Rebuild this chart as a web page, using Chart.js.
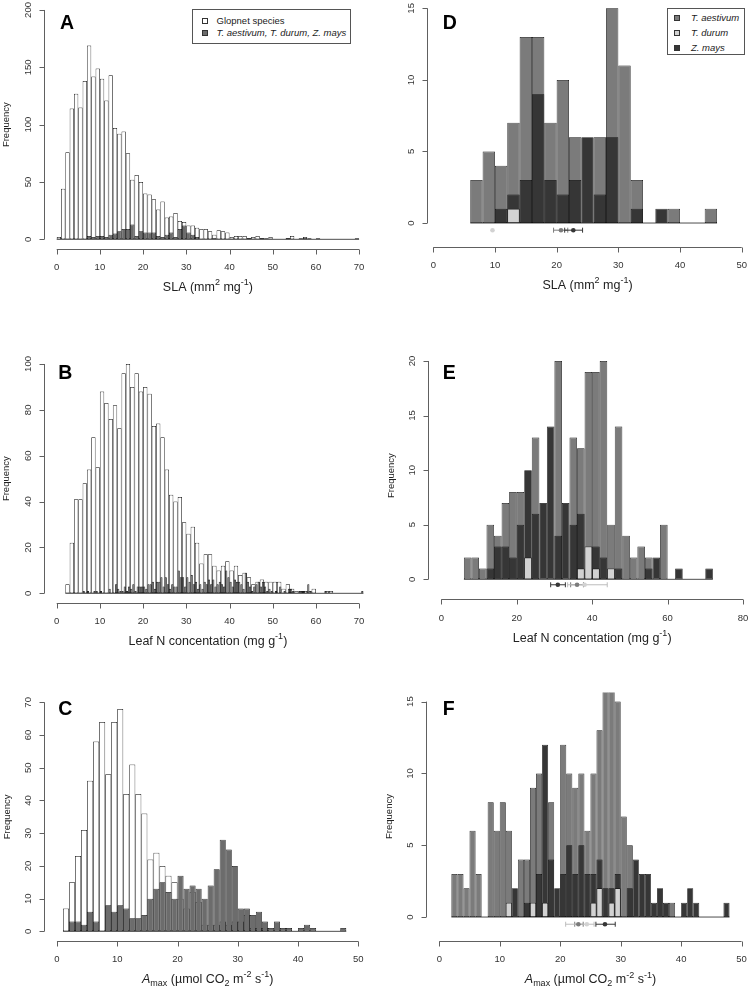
<!DOCTYPE html>
<html lang="en">
<head>
  <meta charset="UTF-8">
  <title>Trait histograms</title>
  <style>
    html, body { margin: 0; padding: 0; background: #fff; overflow: hidden; }
    body { position: relative; width: 752px; height: 990px; font-family: "Liberation Sans", Arial, sans-serif; color: #222; }
    .panel { position: absolute; }
    .lgbox { position: absolute; border: 1px solid #555; background: #fff; box-sizing: border-box; }
    .sw { position: absolute; width: 6px; height: 6px; box-sizing: border-box; border: 1px solid #333; }
    .lt { position: absolute; font-size: 9.5px; line-height: 12px; height: 12px; white-space: nowrap; color: #222; }
    .lt.it { font-style: italic; }
  </style>
</head>
<body>
  <script src="https://cdn.jsdelivr.net/npm/chart.js"></script>
  <script>
    // ---------- data ----------
    const cropNames = ['T. aestivum', 'T. durum', 'Z. mays'];
    const glopLegend = ['Glopnet species', 'T. aestivum, T. durum, Z. mays'];

    // A: SLA, 1-unit bins starting at 0
    const slaGlopnet = [2,44,76,114,127,115,138,169,142,149, 140,121,143,97,92,94,75,52,56,50,
      40,39,35,26,33,19,20,23,16,15, 12,12,10,9,9,7,4,8,7,6, 2,3,3,3,1,2,3,1,1,2,
      0,0,0,1,3,0,1,2,1,0, 1,0,0,0,0,0,0,0,0,0];
    const slaCrops = [0,0,0,0,0,0,0,3,2,3, 3,2,4,5,7,9,9,13,3,7, 6,6,6,3,2,4,6,2,9,12,
      6,4,2,0,0,0,1,0,0,0, 0,0,0,0,1,0,0,1,0,0, 0,0,0,1,0,0,0,1,0,0, 0,0,0,0,0,0,0,0,0,1];

    // B: leaf N, Glopnet 1-unit bins from 2, crops 0.5-unit bins from 6
    const nGlopnet = [4,22,41,41,48,54,68,55,88,83, 76,82,72,96,100,90,96,88,90,87,
      73,74,68,54,43,40,42,31,26,29, 22,13,17,17,12,10,12,14,10,12,
      8,9,7,4,5,6,5,5,5,5, 2,4,2,1,1,1,1,2,0,0, 1,1];
    const nCrops = [1,0, 1,0, 0,1, 1,0, 1,0, 0,0, 2,0, 0,4, 2,1, 1,3,
      1,3, 2,4, 1,3, 3,3, 3,2, 4,4, 5,2, 5,5, 7,3, 7,4,
      2,4, 3,3, 10,7, 7,3, 7,5, 8,4, 5,2, 4,2, 5,4, 6,4,
      6,3, 4,5, 4,3, 10,7, 5,3, 6,5, 5,4, 2,9, 5,3, 1,3,
      4,5, 3,5, 3,1, 2,1, 0,1, 0,3, 0,1, 0,2, 2,1, 0,0,
      1,1, 1,0, 4,1, 0,0, 0,0, 0,0, 1,0, 0,0, 0,0, 0,0,
      0,0, 0,0, 0,0, 0,0, 0,1];

    // C: Amax, 1-unit bins from 1
    const amaxGlopnet = [7,15,23,31,46,58,64,48,64,68, 42,51,42,36,22,24,20,17,15,10,
      7,12,9,2,2,2,3,2,3,3, 5,1,1,1,0,0,0,0,0,0, 0,0,0,0,0,0,0];
    const amaxCrops = [0,3,3,2,6,3,0,8,6,8, 7,4,4,5,10,13,15,12,10,17,
      13,14,13,10,14,19,28,25,20,7, 7,5,6,3,1,3,1,1,0,1, 2,1,0,0,0,0,1];

    // D: SLA by crop, 2-unit bins from 6
    const dAestivum = [3,5,4,7,13,13,7,10,6,0,6,15,11,3,0,0,1,0,0,1];
    const dDurum    = [0,0,0,1,0,0,0,0,0,0,0,0,0,0,0,0,0,0,0,0];
    const dMays     = [0,0,1,2,3,9,3,2,3,6,2,6,0,1,0,1,0,0,0,0];
    const dMean = [20.7, 9.6, 22.7], dLo = [19.5, 9.6, 21.3], dHi = [21.8, 9.6, 24.2];

    // E: leaf N by crop, 2-unit bins from 6
    const eAestivum = [2,2,1,5,4,7,8,8,0,13,0,0,20,0,13,12,19,19,20,5,14,4,2,3,2,0,5,0,0,0,0,0,0];
    const eDurum    = [0,0,0,0,0,0,0,0,2,0,0,0,0,0,0,1,3,1,0,1,0,0,0,0,0,0,0,0,0,0,0,0,0];
    const eMays     = [0,0,0,1,3,3,2,5,10,6,7,14,4,7,5,6,0,3,2,0,1,0,0,0,1,2,0,0,1,0,0,0,1];
    const eMean = [36.0, 38.0, 30.9], eLo = [34.3, 33.5, 29.0], eHi = [37.7, 44.0, 32.9];

    // F: Amax by crop, 1-unit bins from 2
    const fAestivum = [3,3,2,6,3,0,8,6,8,6, 0,4,4,9,10,0,8,0,12,10, 9,10,6,10,13,16,16,15,7,5,
      0,0,0,0,0,0,1,0,0,0, 0,0,0,0,0,0];
    const fDurum    = [0,0,0,0,0,0,0,0,0,1, 0,0,0,1,0,1,0,0,0,0, 0,0,0,1,2,0,1,2,0,0,
      0,0,0,0,0,0,0,0,0,0, 0,0,0,0,0,0];
    const fMays     = [0,0,0,0,0,0,0,0,0,0, 2,0,1,0,3,12,4,2,3,5, 3,5,3,3,4,2,2,3,0,2,
      4,3,3,1,2,1,0,0,1,2, 1,0,0,0,0,1];
    const fMean = [23.0, 24.4, 27.4], fLo = [22.4, 20.9, 25.9], fHi = [23.8, 25.6, 29.1];

    const markerY = -0.5;

    // ---------- styling ----------
    const FONT = '"Liberation Sans", Arial, sans-serif';
    const INK = '#111';
    const AXIS = '#606060';
    const cropColors = ['#7b7b7b', '#d2d2d2', '#363636'];
    const glopFill = '#ffffff', mixFill = '#6c6c6c';

    const xlabSLA = [{t: 'SLA (mm'}, {t: '2', v: 'sup'}, {t: ' mg'}, {t: '-1', v: 'sup'}, {t: ')'}];
    const xlabN = [{t: 'Leaf N concentation (mg g'}, {t: '-1', v: 'sup'}, {t: ')'}];
    const xlabA = [{t: 'A', it: true}, {t: 'max', v: 'sub'}, {t: ' (\u00b5mol CO'}, {t: '2', v: 'sub'},
      {t: ' m'}, {t: '-2', v: 'sup'}, {t: ' s'}, {t: '-1', v: 'sup'}, {t: ')'}];

    function hist(counts, start, width) {
      return counts.map((c, i) => ({x: start + width * (i + 0.5), y: c}));
    }

    function barSet(label, counts, start, width, fill, order, axis) {
      return {
        type: 'bar', label, data: hist(counts, start, width), xAxisID: axis || 'x',
        backgroundColor: fill, borderColor: INK, borderWidth: 0.75, borderSkipped: false,
        barPercentage: 1, categoryPercentage: 1, grouped: false, inflateAmount: 0,
        clip: 0, order
      };
    }

    function drawRich(ctx, segs, cx, cy, size) {
      const parts = segs.map(s => {
        const fs = s.v ? size * 0.72 : size;
        const font = (s.it ? 'italic ' : '') + fs + 'px ' + FONT;
        ctx.font = font;
        const dy = s.v === 'sup' ? -size * 0.38 : s.v === 'sub' ? size * 0.3 : 0;
        return {t: s.t, font, dy, w: ctx.measureText(s.t).width};
      });
      let x = cx - parts.reduce((a, p) => a + p.w, 0) / 2;
      ctx.textAlign = 'left';
      ctx.textBaseline = 'middle';
      parts.forEach(p => { ctx.font = p.font; ctx.fillText(p.t, x, cy + p.dy); x += p.w; });
    }

    // R-style detached axes, labels, whiskers and panel letter
    const rAxes = {
      id: 'rAxes',
      beforeDatasetsDraw(chart, args, o) {
        const ctx = chart.ctx, xs = chart.scales.x, ys = chart.scales.y;
        ctx.save();
        ctx.strokeStyle = INK;
        ctx.lineWidth = 0.75;
        const y0 = ys.getPixelForValue(0);
        ctx.beginPath();
        ctx.moveTo(xs.getPixelForValue(o.baseline[0]), y0);
        ctx.lineTo(xs.getPixelForValue(o.baseline[1]), y0);
        ctx.stroke();
        (o.whiskers || []).forEach(w => {
          const yy = ys.getPixelForValue(w.y);
          const a = xs.getPixelForValue(w.lo), b = xs.getPixelForValue(w.hi);
          if (b - a < 1) return;
          ctx.strokeStyle = w.color;
          ctx.lineWidth = 1;
          ctx.beginPath();
          ctx.moveTo(a, yy); ctx.lineTo(b, yy);
          ctx.moveTo(a, yy - 2.5); ctx.lineTo(a, yy + 2.5);
          ctx.moveTo(b, yy - 2.5); ctx.lineTo(b, yy + 2.5);
          ctx.stroke();
        });
        ctx.restore();
      },
      afterDraw(chart, args, o) {
        const ctx = chart.ctx, xs = chart.scales.x, ys = chart.scales.y;
        const {left, bottom, top} = chart.chartArea;
        ctx.save();
        ctx.strokeStyle = AXIS;
        ctx.lineWidth = 1;
        ctx.fillStyle = '#333';
        ctx.font = '9.5px ' + FONT;
        // x axis
        const xb = Math.round(bottom) + 0.5;
        const xp = o.xTicks.map(v => xs.getPixelForValue(v));
        ctx.beginPath();
        ctx.moveTo(xp[0], xb); ctx.lineTo(xp[xp.length - 1], xb);
        xp.forEach(p => { ctx.moveTo(Math.round(p) + 0.5, xb); ctx.lineTo(Math.round(p) + 0.5, xb + 5); });
        ctx.stroke();
        ctx.textAlign = 'center';
        ctx.textBaseline = 'middle';
        o.xTicks.forEach((v, i) => ctx.fillText(String(v), xp[i], bottom + 18.5));
        // y axis
        const yl = Math.round(left) - 0.5;
        const yp = o.yTicks.map(v => ys.getPixelForValue(v));
        ctx.beginPath();
        ctx.moveTo(yl, yp[0]); ctx.lineTo(yl, yp[yp.length - 1]);
        yp.forEach(p => { ctx.moveTo(yl, Math.round(p) + 0.5); ctx.lineTo(yl - 5, Math.round(p) + 0.5); });
        ctx.stroke();
        o.yTicks.forEach((v, i) => {
          ctx.save();
          ctx.translate(left - 16.5, yp[i]);
          ctx.rotate(-Math.PI / 2);
          ctx.fillText(String(v), 0, 0);
          ctx.restore();
        });
        // axis titles
        ctx.fillStyle = '#222';
        if (o.yTitle) {
          ctx.save();
          ctx.font = '9.5px ' + FONT;
          ctx.translate(left - 38, (top + bottom) / 2);
          ctx.rotate(-Math.PI / 2);
          ctx.fillText(o.yTitle, 0, 0);
          ctx.restore();
        }
        drawRich(ctx, o.xTitle, (xp[0] + xp[xp.length - 1]) / 2, bottom + 39.2, 12.5);
        // panel letter
        ctx.fillStyle = '#000';
        ctx.font = 'bold 19.5px ' + FONT;
        ctx.textAlign = 'left';
        ctx.textBaseline = 'alphabetic';
        ctx.fillText(o.letter, o.letterAt[0], o.letterAt[1]);
        ctx.restore();
      }
    };

    function makePanel(p) {
      const [bx, by, bw, bh] = p.box;
      const [al, at, ar, ab] = p.area;
      const wrap = document.createElement('div');
      wrap.className = 'panel';
      wrap.style.left = bx + 'px';
      wrap.style.top = by + 'px';
      wrap.style.width = bw + 'px';
      wrap.style.height = bh + 'px';
      const cv = document.createElement('canvas');
      wrap.appendChild(cv);
      document.body.appendChild(wrap);
      const xAxis = {type: 'linear', display: false, offset: false, min: p.xRange[0], max: p.xRange[1]};
      return new Chart(cv, {
        type: 'bar',
        data: {datasets: p.datasets},
        options: {
          responsive: true,
          maintainAspectRatio: false,
          animation: false,
          events: [],
          layout: {padding: {left: al - bx, top: at - by, right: bx + bw - ar, bottom: by + bh - ab}},
          scales: {
            x: xAxis,
            x2: Object.assign({}, xAxis),
            y: {type: 'linear', display: false, min: p.yRange[0], max: p.yRange[1]}
          },
          plugins: {
            legend: {display: false},
            tooltip: {enabled: false},
            rAxes: {
              xTicks: p.xTicks, yTicks: p.yTicks, xTitle: p.xTitle, yTitle: p.yTitle,
              letter: p.letter, letterAt: [p.letterAt[0] - bx, p.letterAt[1] - by],
              baseline: p.baseline, whiskers: p.whiskers
            }
          }
        },
        plugins: [rAxes]
      });
    }

    function cropPanel(a, d, m, start, width, mean, lo, hi) {
      const sets = [
        barSet(cropNames[1], d, start, width, cropColors[1], 1),
        barSet(cropNames[2], m, start, width, cropColors[2], 2),
        barSet(cropNames[0], a, start, width, cropColors[0], 3)
      ];
      [0, 2, 1].forEach(k => sets.push({
        type: 'scatter', data: [{x: mean[k], y: markerY}], backgroundColor: cropColors[k],
        pointRadius: 2.3, borderWidth: 0, order: 0, clip: false
      }));
      const whiskers = [0, 2, 1].map(k => ({lo: lo[k], hi: hi[k], y: markerY, color: k === 1 ? '#bdbdbd' : cropColors[k]}));
      return {sets, whiskers};
    }

    const dP = cropPanel(dAestivum, dDurum, dMays, 6, 2, dMean, dLo, dHi);
    const eP = cropPanel(eAestivum, eDurum, eMays, 6, 2, eMean, eLo, eHi);
    const fP = cropPanel(fAestivum, fDurum, fMays, 2, 1, fMean, fLo, fHi);

    const panels = [
      {letter: 'A', letterAt: [60, 29.3], box: [0, -10, 376, 340], area: [44.6, 0.8, 371.2, 248.5],
        xRange: [-2.8, 72.8], yRange: [-8, 208], xTicks: [0,10,20,30,40,50,60,70], yTicks: [0,50,100,150,200],
        xTitle: xlabSLA, yTitle: 'Frequency', baseline: [0, 70],
        datasets: [barSet(glopLegend[1], slaCrops, 0, 1, mixFill, 1), barSet(glopLegend[0], slaGlopnet, 0, 1, glopFill, 2)]},
      {letter: 'B', letterAt: [58.3, 379], box: [0, 320, 376, 335], area: [44.6, 354.8, 371.2, 602.5],
        xRange: [-2.8, 72.8], yRange: [-4, 104], xTicks: [0,10,20,30,40,50,60,70], yTicks: [0,20,40,60,80,100],
        xTitle: xlabN, yTitle: 'Frequency', baseline: [2, 71],
        datasets: [barSet(glopLegend[1], nCrops, 6, 0.5, mixFill, 1, 'x2'), barSet(glopLegend[0], nGlopnet, 2, 1, glopFill, 2)]},
      {letter: 'C', letterAt: [58.3, 714.5], box: [0, 655, 376, 335], area: [44.9, 693.2, 370.4, 940.5],
        xRange: [-2, 52], yRange: [-2.8, 72.8], xTicks: [0,10,20,30,40,50], yTicks: [0,10,20,30,40,50,60,70],
        xTitle: xlabA, yTitle: 'Frequency', baseline: [1, 48],
        datasets: [barSet(glopLegend[1], amaxCrops, 1, 1, mixFill, 1), barSet(glopLegend[0], amaxGlopnet, 1, 1, glopFill, 2)]},
      {letter: 'D', letterAt: [442.7, 28.5], box: [376, -10, 384, 340], area: [427.6, -0.8, 747.4, 246.5],
        xRange: [-0.92, 50.92], yRange: [-1.64, 15.64], xTicks: [0,10,20,30,40,50], yTicks: [0,5,10,15],
        xTitle: xlabSLA, yTitle: null, baseline: [6, 46], datasets: dP.sets, whiskers: dP.whiskers},
      {letter: 'E', letterAt: [442.7, 379], box: [376, 320, 384, 335], area: [429.2, 351.8, 755.1, 599.4],
        xRange: [-3.2, 83.2], yRange: [-1.84, 20.84], xTicks: [0,20,40,60,80], yTicks: [0,5,10,15,20],
        xTitle: xlabN, yTitle: 'Frequency', baseline: [6, 72], datasets: eP.sets, whiskers: eP.whiskers},
      {letter: 'F', letterAt: [442.7, 715], box: [376, 655, 384, 335], area: [427.2, 692.4, 753.7, 940.6],
        xRange: [-2, 52], yRange: [-1.64, 15.64], xTicks: [0,10,20,30,40,50], yTicks: [0,5,10,15],
        xTitle: xlabA, yTitle: 'Frequency', baseline: [2, 48], datasets: fP.sets, whiskers: fP.whiskers}
    ];
    panels.forEach(makePanel);

    // legends (HTML boxes laid over panels A and D)
    function legend(box, swX, textX, rowsY, names, fills, italic) {
      const b = document.createElement('div');
      b.className = 'lgbox';
      Object.assign(b.style, {left: box[0] + 'px', top: box[1] + 'px', width: box[2] + 'px', height: box[3] + 'px'});
      document.body.appendChild(b);
      names.forEach((n, i) => {
        const s = document.createElement('div');
        s.className = 'sw';
        Object.assign(s.style, {left: swX + 'px', top: (rowsY[i] - 3) + 'px', background: fills[i]});
        const t = document.createElement('div');
        t.className = 'lt' + (italic[i] ? ' it' : '');
        t.textContent = n;
        Object.assign(t.style, {left: textX + 'px', top: (rowsY[i] - 6) + 'px'});
        document.body.appendChild(s);
        document.body.appendChild(t);
      });
    }
    legend([192, 9, 159, 34.5], 201.5, 216.5, [21, 32.7], glopLegend, [glopFill, mixFill], [false, true]);
    legend([666.5, 8.3, 78.5, 47], 673.5, 691, [18.3, 33.1, 47.7], cropNames, cropColors, [true, true, true]);
  </script>
</body>
</html>
